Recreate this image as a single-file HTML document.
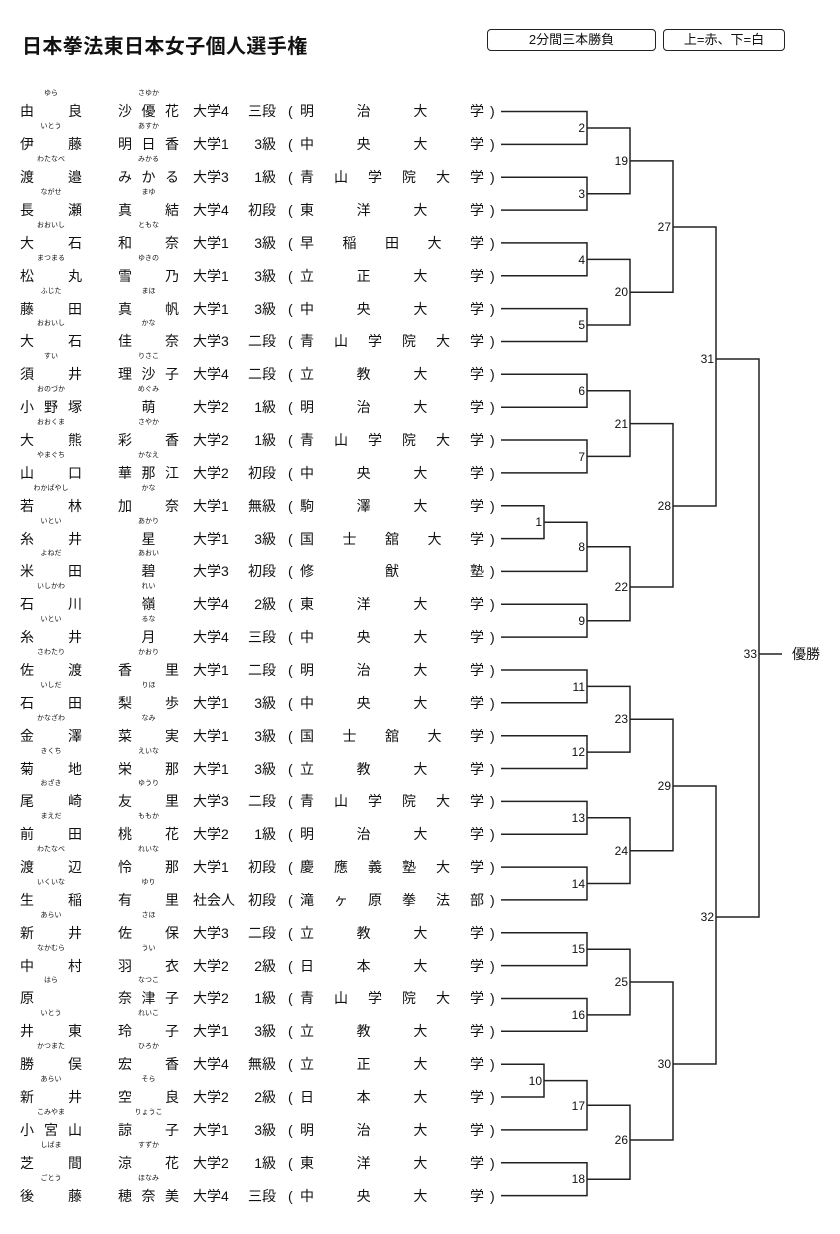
<!DOCTYPE html>
<html><head><meta charset="utf-8">
<style>
*{margin:0;padding:0}
body{width:840px;height:1234px;background:#fff;position:relative;overflow:hidden;font-family:"Liberation Sans","Noto Sans CJK JP",sans-serif;color:#111}
.t{position:absolute;left:22px;top:30px;font-size:20px;font-weight:bold;letter-spacing:0.4px;white-space:nowrap}
.bx{position:absolute;top:29px;height:22px;border:1.5px solid #222;border-radius:4px;font-size:13px;line-height:20px;text-align:center;box-sizing:border-box}
.r{position:absolute;left:0;width:500px;height:20px;font-size:14px;line-height:20px;white-space:nowrap}
.r span{position:absolute;top:0}
.s{left:20px;width:62px;text-align:justify;text-align-last:justify}
.g{left:118px;width:61px;text-align:justify;text-align-last:justify}
.g.c{text-align-last:center}
.s.l{text-align-last:left}
.f1,.f2{font-size:7px;line-height:8px;top:-11px!important;text-align:center}
.f1{left:20px;width:62px}
.f2{left:118px;width:61px}
.k{left:193px}
.d{left:240px;width:36px;text-align:right}
.p{left:288px}
.u{left:300px;width:184px;text-align:justify;text-align-last:justify}
.q{left:490px}
svg{position:absolute;left:0;top:0}
</style></head><body>
<div class="t">日本拳法東日本女子個人選手権</div>
<div class="bx" style="left:487px;width:169px">2分間三本勝負</div>
<div class="bx" style="left:663px;width:122px">上=赤、下=白</div>

<div class="r" style="top:101px"><span class="f1">ゆら</span><span class="s">由 良</span><span class="f2">さゆか</span><span class="g">沙 優 花</span><span class="k">大学4</span><span class="d">三段</span><span class="p">(</span><span class="u">明 治 大 学</span><span class="q">)</span></div>
<div class="r" style="top:134px"><span class="f1">いとう</span><span class="s">伊 藤</span><span class="f2">あすか</span><span class="g">明 日 香</span><span class="k">大学1</span><span class="d">3級</span><span class="p">(</span><span class="u">中 央 大 学</span><span class="q">)</span></div>
<div class="r" style="top:167px"><span class="f1">わたなべ</span><span class="s">渡 邉</span><span class="f2">みかる</span><span class="g">み か る</span><span class="k">大学3</span><span class="d">1級</span><span class="p">(</span><span class="u">青 山 学 院 大 学</span><span class="q">)</span></div>
<div class="r" style="top:200px"><span class="f1">ながせ</span><span class="s">長 瀬</span><span class="f2">まゆ</span><span class="g">真 結</span><span class="k">大学4</span><span class="d">初段</span><span class="p">(</span><span class="u">東 洋 大 学</span><span class="q">)</span></div>
<div class="r" style="top:233px"><span class="f1">おおいし</span><span class="s">大 石</span><span class="f2">ともな</span><span class="g">和 奈</span><span class="k">大学1</span><span class="d">3級</span><span class="p">(</span><span class="u">早 稲 田 大 学</span><span class="q">)</span></div>
<div class="r" style="top:266px"><span class="f1">まつまる</span><span class="s">松 丸</span><span class="f2">ゆきの</span><span class="g">雪 乃</span><span class="k">大学1</span><span class="d">3級</span><span class="p">(</span><span class="u">立 正 大 学</span><span class="q">)</span></div>
<div class="r" style="top:299px"><span class="f1">ふじた</span><span class="s">藤 田</span><span class="f2">まほ</span><span class="g">真 帆</span><span class="k">大学1</span><span class="d">3級</span><span class="p">(</span><span class="u">中 央 大 学</span><span class="q">)</span></div>
<div class="r" style="top:331px"><span class="f1">おおいし</span><span class="s">大 石</span><span class="f2">かな</span><span class="g">佳 奈</span><span class="k">大学3</span><span class="d">二段</span><span class="p">(</span><span class="u">青 山 学 院 大 学</span><span class="q">)</span></div>
<div class="r" style="top:364px"><span class="f1">すい</span><span class="s">須 井</span><span class="f2">りさこ</span><span class="g">理 沙 子</span><span class="k">大学4</span><span class="d">二段</span><span class="p">(</span><span class="u">立 教 大 学</span><span class="q">)</span></div>
<div class="r" style="top:397px"><span class="f1">おのづか</span><span class="s">小 野 塚</span><span class="f2">めぐみ</span><span class="g c">萌</span><span class="k">大学2</span><span class="d">1級</span><span class="p">(</span><span class="u">明 治 大 学</span><span class="q">)</span></div>
<div class="r" style="top:430px"><span class="f1">おおくま</span><span class="s">大 熊</span><span class="f2">さやか</span><span class="g">彩 香</span><span class="k">大学2</span><span class="d">1級</span><span class="p">(</span><span class="u">青 山 学 院 大 学</span><span class="q">)</span></div>
<div class="r" style="top:463px"><span class="f1">やまぐち</span><span class="s">山 口</span><span class="f2">かなえ</span><span class="g">華 那 江</span><span class="k">大学2</span><span class="d">初段</span><span class="p">(</span><span class="u">中 央 大 学</span><span class="q">)</span></div>
<div class="r" style="top:496px"><span class="f1">わかばやし</span><span class="s">若 林</span><span class="f2">かな</span><span class="g">加 奈</span><span class="k">大学1</span><span class="d">無級</span><span class="p">(</span><span class="u">駒 澤 大 学</span><span class="q">)</span></div>
<div class="r" style="top:529px"><span class="f1">いとい</span><span class="s">糸 井</span><span class="f2">あかり</span><span class="g c">星</span><span class="k">大学1</span><span class="d">3級</span><span class="p">(</span><span class="u">国 士 舘 大 学</span><span class="q">)</span></div>
<div class="r" style="top:561px"><span class="f1">よねだ</span><span class="s">米 田</span><span class="f2">あおい</span><span class="g c">碧</span><span class="k">大学3</span><span class="d">初段</span><span class="p">(</span><span class="u">修 猷 塾</span><span class="q">)</span></div>
<div class="r" style="top:594px"><span class="f1">いしかわ</span><span class="s">石 川</span><span class="f2">れい</span><span class="g c">嶺</span><span class="k">大学4</span><span class="d">2級</span><span class="p">(</span><span class="u">東 洋 大 学</span><span class="q">)</span></div>
<div class="r" style="top:627px"><span class="f1">いとい</span><span class="s">糸 井</span><span class="f2">るな</span><span class="g c">月</span><span class="k">大学4</span><span class="d">三段</span><span class="p">(</span><span class="u">中 央 大 学</span><span class="q">)</span></div>
<div class="r" style="top:660px"><span class="f1">さわたり</span><span class="s">佐 渡</span><span class="f2">かおり</span><span class="g">香 里</span><span class="k">大学1</span><span class="d">二段</span><span class="p">(</span><span class="u">明 治 大 学</span><span class="q">)</span></div>
<div class="r" style="top:693px"><span class="f1">いしだ</span><span class="s">石 田</span><span class="f2">りほ</span><span class="g">梨 歩</span><span class="k">大学1</span><span class="d">3級</span><span class="p">(</span><span class="u">中 央 大 学</span><span class="q">)</span></div>
<div class="r" style="top:726px"><span class="f1">かなざわ</span><span class="s">金 澤</span><span class="f2">なみ</span><span class="g">菜 実</span><span class="k">大学1</span><span class="d">3級</span><span class="p">(</span><span class="u">国 士 舘 大 学</span><span class="q">)</span></div>
<div class="r" style="top:759px"><span class="f1">きくち</span><span class="s">菊 地</span><span class="f2">えいな</span><span class="g">栄 那</span><span class="k">大学1</span><span class="d">3級</span><span class="p">(</span><span class="u">立 教 大 学</span><span class="q">)</span></div>
<div class="r" style="top:791px"><span class="f1">おざき</span><span class="s">尾 崎</span><span class="f2">ゆうり</span><span class="g">友 里</span><span class="k">大学3</span><span class="d">二段</span><span class="p">(</span><span class="u">青 山 学 院 大 学</span><span class="q">)</span></div>
<div class="r" style="top:824px"><span class="f1">まえだ</span><span class="s">前 田</span><span class="f2">ももか</span><span class="g">桃 花</span><span class="k">大学2</span><span class="d">1級</span><span class="p">(</span><span class="u">明 治 大 学</span><span class="q">)</span></div>
<div class="r" style="top:857px"><span class="f1">わたなべ</span><span class="s">渡 辺</span><span class="f2">れいな</span><span class="g">怜 那</span><span class="k">大学1</span><span class="d">初段</span><span class="p">(</span><span class="u">慶 應 義 塾 大 学</span><span class="q">)</span></div>
<div class="r" style="top:890px"><span class="f1">いくいな</span><span class="s">生 稲</span><span class="f2">ゆり</span><span class="g">有 里</span><span class="k">社会人</span><span class="d">初段</span><span class="p">(</span><span class="u">滝 ヶ 原 拳 法 部</span><span class="q">)</span></div>
<div class="r" style="top:923px"><span class="f1">あらい</span><span class="s">新 井</span><span class="f2">さほ</span><span class="g">佐 保</span><span class="k">大学3</span><span class="d">二段</span><span class="p">(</span><span class="u">立 教 大 学</span><span class="q">)</span></div>
<div class="r" style="top:956px"><span class="f1">なかむら</span><span class="s">中 村</span><span class="f2">うい</span><span class="g">羽 衣</span><span class="k">大学2</span><span class="d">2級</span><span class="p">(</span><span class="u">日 本 大 学</span><span class="q">)</span></div>
<div class="r" style="top:988px"><span class="f1">はら</span><span class="s l">原</span><span class="f2">なつこ</span><span class="g">奈 津 子</span><span class="k">大学2</span><span class="d">1級</span><span class="p">(</span><span class="u">青 山 学 院 大 学</span><span class="q">)</span></div>
<div class="r" style="top:1021px"><span class="f1">いとう</span><span class="s">井 東</span><span class="f2">れいこ</span><span class="g">玲 子</span><span class="k">大学1</span><span class="d">3級</span><span class="p">(</span><span class="u">立 教 大 学</span><span class="q">)</span></div>
<div class="r" style="top:1054px"><span class="f1">かつまた</span><span class="s">勝 俣</span><span class="f2">ひろか</span><span class="g">宏 香</span><span class="k">大学4</span><span class="d">無級</span><span class="p">(</span><span class="u">立 正 大 学</span><span class="q">)</span></div>
<div class="r" style="top:1087px"><span class="f1">あらい</span><span class="s">新 井</span><span class="f2">そら</span><span class="g">空 良</span><span class="k">大学2</span><span class="d">2級</span><span class="p">(</span><span class="u">日 本 大 学</span><span class="q">)</span></div>
<div class="r" style="top:1120px"><span class="f1">こみやま</span><span class="s">小 宮 山</span><span class="f2">りょうこ</span><span class="g">諒 子</span><span class="k">大学1</span><span class="d">3級</span><span class="p">(</span><span class="u">明 治 大 学</span><span class="q">)</span></div>
<div class="r" style="top:1153px"><span class="f1">しばま</span><span class="s">芝 間</span><span class="f2">すずか</span><span class="g">涼 花</span><span class="k">大学2</span><span class="d">1級</span><span class="p">(</span><span class="u">東 洋 大 学</span><span class="q">)</span></div>
<div class="r" style="top:1186px"><span class="f1">ごとう</span><span class="s">後 藤</span><span class="f2">ほなみ</span><span class="g">穂 奈 美</span><span class="k">大学4</span><span class="d">三段</span><span class="p">(</span><span class="u">中 央 大 学</span><span class="q">)</span></div>

<svg width="840" height="1234" viewBox="0 0 840 1234">
<g fill="none" stroke="#222" stroke-width="1.5">
<path d="M501 111.5H587V144.4H501"/>
<path d="M501 177.2H587V210.1H501"/>
<path d="M501 242.9H587V275.8H501"/>
<path d="M501 308.6H587V341.5H501"/>
<path d="M501 374.3H587V407.2H501"/>
<path d="M501 440H587V472.9H501"/>
<path d="M501 505.7H544V538.6H501"/>
<path d="M544 522.2H587V571.4H501"/>
<path d="M501 604.3H587V637.1H501"/>
<path d="M501 670H587V702.8H501"/>
<path d="M501 735.7H587V768.5H501"/>
<path d="M501 801.4H587V834.2H501"/>
<path d="M501 867.1H587V899.9H501"/>
<path d="M501 932.8H587V965.6H501"/>
<path d="M501 998.5H587V1031.3H501"/>
<path d="M501 1064.2H544V1097H501"/>
<path d="M544 1080.6H587V1129.9H501"/>
<path d="M501 1162.7H587V1195.6H501"/>
<path d="M587 128H630V193.7H587"/>
<path d="M587 259.4H630V325H587"/>
<path d="M587 390.8H630V456.4H587"/>
<path d="M587 546.8H630V620.7H587"/>
<path d="M587 686.4H630V752.1H587"/>
<path d="M587 817.8H630V883.5H587"/>
<path d="M587 949.2H630V1014.9H587"/>
<path d="M587 1105.3H630V1179.2H587"/>
<path d="M630 160.9H673V292.2H630"/>
<path d="M630 423.6H673V587H630"/>
<path d="M630 719.3H673V850.7H630"/>
<path d="M630 982H673V1140H630"/>
<path d="M673 227H716V506H673"/>
<path d="M673 786H716V1064H673"/>
<path d="M716 359H759V917H716"/>
<path d="M759 654H782"/>
</g>
<g font-family="Liberation Sans, sans-serif" font-size="12" fill="#111" text-anchor="end">
<text x="585" y="132">2</text>
<text x="585" y="198">3</text>
<text x="585" y="264">4</text>
<text x="585" y="329">5</text>
<text x="585" y="395">6</text>
<text x="585" y="461">7</text>
<text x="542" y="526">1</text>
<text x="585" y="551">8</text>
<text x="585" y="625">9</text>
<text x="585" y="691">11</text>
<text x="585" y="756">12</text>
<text x="585" y="822">13</text>
<text x="585" y="888">14</text>
<text x="585" y="953">15</text>
<text x="585" y="1019">16</text>
<text x="542" y="1085">10</text>
<text x="585" y="1110">17</text>
<text x="585" y="1183">18</text>
<text x="628" y="165">19</text>
<text x="628" y="296">20</text>
<text x="628" y="428">21</text>
<text x="628" y="591">22</text>
<text x="628" y="723">23</text>
<text x="628" y="855">24</text>
<text x="628" y="986">25</text>
<text x="628" y="1144">26</text>
<text x="671" y="231">27</text>
<text x="671" y="510">28</text>
<text x="671" y="790">29</text>
<text x="671" y="1068">30</text>
<text x="714" y="363">31</text>
<text x="714" y="921">32</text>
<text x="757" y="658">33</text>
</g>
<text x="792" y="659" font-family="Liberation Sans, Noto Sans CJK JP, sans-serif" font-size="14" fill="#111">優勝</text>
</svg>
</body></html>
